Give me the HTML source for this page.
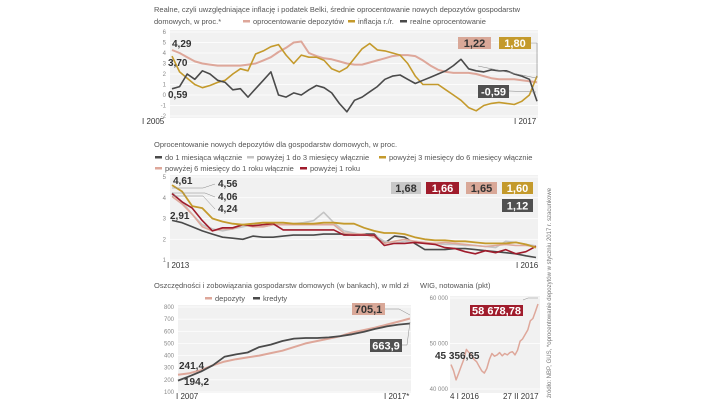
<!DOCTYPE html>
<html><head><meta charset="utf-8"><style>
html,body{margin:0;padding:0;background:#fff;}
svg{display:block;font-family:"Liberation Sans",sans-serif;}
.t{font-size:7.5px;fill:#555;}
.ax{font-size:6px;fill:#888;}
.xl{font-size:8px;fill:#333;}
.v{font-family:"Liberation Sans Narrow","Liberation Sans",sans-serif;font-weight:bold;font-size:10px;fill:#333;}
.bx{font-family:"Liberation Sans Narrow","Liberation Sans",sans-serif;font-weight:bold;font-size:11px;}
</style></head><body>
<svg id="s" width="720" height="406" viewBox="0 0 720 406">
<g>
<text class="t" x="154" y="12">Realne, czyli uwzględniające inflację i podatek Belki, średnie oprocentowanie nowych depozytów gospodarstw</text>
<text class="t" x="154" y="24">domowych, w proc.*</text>
<g>
<rect x="243" y="20" width="7" height="2.5" fill="#dea79a"/><text class="t" x="253" y="24">oprocentowanie depozytów</text>
<rect x="348" y="20" width="7" height="2.5" fill="#c49a2c"/><text class="t" x="358" y="24">inflacja r./r.</text>
<rect x="400" y="20" width="7" height="2.5" fill="#4a4a4a"/><text class="t" x="410" y="24">realne oprocentowanie</text>
</g>
<rect x="170" y="30" width="368" height="88" fill="#f1f1f1"/>
<g id="c1"></g>
<text class="xl" x="142" y="124">I 2005</text>
<text class="xl" x="514" y="124">I 2017</text>
<text class="v" x="172" y="47">4,29</text>
<text class="v" x="168" y="66">3,70</text>
<text class="v" x="168" y="98">0,59</text>
<rect x="458" y="37" width="33" height="12" fill="#d9a898"/><text class="bx" x="474.5" y="47" text-anchor="middle" fill="#333">1,22</text>
<rect x="499" y="37" width="32" height="12" fill="#c49a2c"/><text class="bx" x="515" y="47" text-anchor="middle" fill="#fff">1,80</text>
<rect x="478" y="85" width="31" height="13" fill="#505050"/><text class="bx" x="493.5" y="95.5" text-anchor="middle" fill="#fff">-0,59</text>
<polyline points="531,43 537,43 537,78" fill="none" stroke="#888" stroke-width="0.6"/>
<polyline points="509,91 536,92" fill="none" stroke="#888" stroke-width="0.6"/>
<polyline points="478,66 536,78" fill="none" stroke="#888" stroke-width="0.6"/>
</g>

<g>
<text class="t" x="154" y="147">Oprocentowanie nowych depozytów dla gospodarstw domowych, w proc.</text>
<g>
<rect x="155" y="156" width="7" height="2.5" fill="#4a4a4a"/><text class="t" x="165" y="160">do 1 miesiąca włącznie</text>
<rect x="247" y="156" width="7" height="2.5" fill="#c4c4c4"/><text class="t" x="257" y="160">powyżej 1 do 3 miesięcy włącznie</text>
<rect x="379" y="156" width="7" height="2.5" fill="#c49a2c"/><text class="t" x="389" y="160">powyżej 3 miesięcy do 6 miesięcy włącznie</text>
<rect x="155" y="167" width="7" height="2.5" fill="#dea79a"/><text class="t" x="165" y="171">powyżej 6 miesięcy do 1 roku włącznie</text>
<rect x="300" y="167" width="7" height="2.5" fill="#a01c2c"/><text class="t" x="310" y="171">powyżej 1 roku</text>
</g>
<rect x="170" y="175" width="368" height="86" fill="#f1f1f1"/>
<g id="c2"></g>
<text class="xl" x="167" y="268">I 2013</text>
<text class="xl" x="516" y="268">I 2016</text>
<text class="v" x="173" y="184">4,61</text>
<text class="v" x="218" y="187">4,56</text>
<text class="v" x="218" y="200">4,06</text>
<text class="v" x="218" y="212">4,24</text>
<text class="v" x="170" y="219">2,91</text>
<polyline points="172,188 203,188 215,184" fill="none" stroke="#888" stroke-width="0.5"/>
<polyline points="172,193 205,193 215,197" fill="none" stroke="#888" stroke-width="0.5"/>
<polyline points="172,196 203,196 215,209" fill="none" stroke="#888" stroke-width="0.5"/>
<rect x="391" y="182" width="30" height="12" fill="#c8c8c8"/><text class="bx" x="406" y="192" text-anchor="middle" fill="#333">1,68</text>
<rect x="426" y="182" width="33" height="12" fill="#a01c2c"/><text class="bx" x="442.5" y="192" text-anchor="middle" fill="#fff">1,66</text>
<rect x="466" y="182" width="31" height="12" fill="#d9a898"/><text class="bx" x="481.5" y="192" text-anchor="middle" fill="#333">1,65</text>
<rect x="502" y="182" width="31" height="12" fill="#c49a2c"/><text class="bx" x="517.5" y="192" text-anchor="middle" fill="#fff">1,60</text>
<rect x="502" y="199" width="31" height="13" fill="#505050"/><text class="bx" x="517.5" y="209.5" text-anchor="middle" fill="#fff">1,12</text>
</g>

<g>
<text class="t" x="154" y="288">Oszczędności i zobowiązania gospodarstw domowych (w bankach), w mld zł</text>
<g>
<rect x="205" y="297" width="7" height="2.5" fill="#dea79a"/><text class="t" x="215" y="301">depozyty</text>
<rect x="253" y="297" width="7" height="2.5" fill="#4a4a4a"/><text class="t" x="263" y="301">kredyty</text>
</g>
<rect x="178" y="305" width="233" height="88" fill="#f1f1f1"/>
<g id="c3"></g>
<text class="xl" x="176" y="399">I 2007</text>
<text class="xl" x="384" y="399">I 2017*</text>
<text class="v" x="179" y="369">241,4</text>
<text class="v" x="184" y="385">194,2</text>
<rect x="352" y="303" width="33" height="12" fill="#d9a898"/><text class="bx" x="368.5" y="313" text-anchor="middle" fill="#333">705,1</text>
<rect x="370" y="339" width="32" height="13" fill="#505050"/><text class="bx" x="386" y="349.5" text-anchor="middle" fill="#fff">663,9</text>
<polyline points="385,309 399,309 410,315" fill="none" stroke="#888" stroke-width="0.5"/>
<polyline points="402,345 407,345 410,322" fill="none" stroke="#888" stroke-width="0.5"/>
</g>

<g>
<text class="t" x="420" y="288">WIG, notowania (pkt)</text>
<rect x="450" y="296" width="90" height="97" fill="#f1f1f1"/>
<g id="c4"></g>
<text class="xl" x="450" y="399">4 I 2016</text>
<text class="xl" x="503" y="399">27 II 2017</text>
<text class="v" x="435" y="359">45 356,65</text>
<rect x="470" y="305" width="53" height="11" fill="#a01c2c"/><text class="bx" x="496.5" y="314.5" text-anchor="middle" fill="#fff">58 678,78</text>
<polyline points="523,300 528,298 538,298" fill="none" stroke="#888" stroke-width="0.5"/>
</g>
<text x="0" y="0" transform="translate(551,398) rotate(-90)" style="font-size:6px;fill:#777">źródło: NBP, GUS, *oprocentowanie depozytów w styczniu 2017 r. szacunkowe</text>
</svg>
<script>
var c1Pink=[4.29,4.0,3.6,3.2,3.0,2.9,2.8,2.8,2.8,2.8,2.9,3.0,3.3,3.6,4.1,4.5,5.0,5.1,4.0,3.7,3.5,3.4,3.2,3.0,2.9,2.9,3.1,3.3,3.5,3.7,3.8,3.8,3.7,3.3,2.8,2.4,2.2,2.1,2.1,2.1,2.0,1.8,1.6,1.5,1.5,1.5,1.4,1.3,1.22];
var c1Gold=[3.70,2.2,1.6,1.0,0.7,0.9,1.2,1.4,2.0,2.5,2.3,3.9,4.2,4.6,4.8,3.8,3.0,3.8,3.6,3.6,3.3,2.5,2.2,2.6,3.5,4.4,4.9,4.3,4.2,4.0,3.8,3.0,1.8,1.0,1.0,1.0,0.5,0.0,-0.5,-1.2,-1.5,-1.0,-0.8,-0.7,-0.8,-0.9,-0.6,0.0,1.8];
var c1Dark=[0.59,0.8,2.0,1.5,2.3,2.0,1.4,1.2,0.5,0.6,-0.2,0.6,1.4,2.2,0.0,-0.2,0.2,0.0,0.5,0.9,0.7,0.2,-0.8,-1.6,-0.5,-0.2,0.3,0.8,1.5,1.8,1.9,1.5,1.1,1.4,1.7,2.0,2.3,2.8,3.4,2.5,2.3,2.2,2.4,2.3,2.3,2.0,1.8,1.5,-0.59];
var c1Ticks=[6,5,4,3,2,1,0,-1,-2];
var c2Dark=[2.91,2.8,2.6,2.4,2.25,2.1,2.05,2.0,2.15,2.1,2.1,2.15,2.2,2.2,2.2,2.25,2.25,2.25,2.2,2.25,2.25,1.8,2.15,2.1,1.8,1.5,1.5,1.5,1.55,1.55,1.5,1.45,1.4,1.35,1.3,1.2,1.12];
var c2Gray=[4.24,3.8,3.2,2.7,2.5,2.4,2.5,2.6,2.7,2.6,2.7,2.7,2.75,2.8,2.9,3.3,2.8,2.4,2.3,2.2,2.2,1.9,1.8,1.9,1.9,1.8,1.8,1.75,1.75,1.7,1.7,1.65,1.6,1.9,1.85,1.75,1.68];
var c2Pink=[4.06,3.7,3.2,2.6,2.4,2.5,2.5,2.7,2.6,2.6,2.7,2.7,2.7,2.7,2.7,2.7,2.7,2.3,2.25,2.25,2.1,1.8,1.9,2.0,1.9,1.85,1.8,1.85,1.8,1.75,1.7,1.65,1.7,1.75,1.7,1.7,1.65];
var c2Red=[4.2,3.8,3.5,2.9,2.4,2.55,2.55,2.7,2.65,2.7,2.75,2.45,2.45,2.45,2.45,2.45,2.45,2.2,2.2,2.2,2.2,1.7,1.8,1.8,1.85,1.8,1.75,1.6,1.55,1.4,1.3,1.45,1.35,1.5,1.3,1.4,1.66];
var c2Gold=[4.61,4.3,3.6,3.5,3.0,2.85,2.75,2.7,2.75,2.8,2.8,2.8,2.75,2.75,2.75,2.8,2.8,2.75,2.75,2.55,2.4,2.3,2.3,2.25,2.1,2.0,1.95,1.95,1.9,1.9,1.85,1.8,1.8,1.8,1.85,1.75,1.60];
var c2Ticks=[5,4,3,2,1];
var c3Dep=[241.4,255,280,320,350,370,385,400,420,440,470,500,520,540,560,590,610,630,655,680,705.1];
var c3Cred=[194.2,230,270,320,390,410,425,470,490,520,540,545,545,550,560,575,595,620,640,655,663.9];
var c3Ticks=[800,700,600,500,400,300,200,100];
var c4Wig=[45357,44000,42000,43500,45000,46500,48700,48000,47500,46500,46000,45000,44000,43500,44500,46500,47800,47200,47500,48000,47300,47800,47500,48000,48200,47500,48500,50500,51000,52000,53000,55000,55500,57000,58679];
var c4Ticks=[60000,50000,40000];
var tickLabels4=["60 000","50 000","40 000"];
var NS="http://www.w3.org/2000/svg";
function lin(d0,d1,r0,r1){return function(v){return r0+(v-d0)/(d1-d0)*(r1-r0);};}
function line(g,data,x0,x1,ys,color,w){
  var xs=lin(0,data.length-1,x0,x1);var pts=[];
  for(var i=0;i<data.length;i++)pts.push(xs(i).toFixed(1)+","+ys(data[i]).toFixed(1));
  var p=document.createElementNS(NS,"polyline");
  p.setAttribute("points",pts.join(" "));p.setAttribute("fill","none");
  p.setAttribute("stroke",color);p.setAttribute("stroke-width",w);p.setAttribute("stroke-linejoin","round");
  g.appendChild(p);return p;
}
function ticks(g,arr,ys,x,gx0,gx1,labels){
  for(var i=0;i<arr.length;i++){
    var y=ys(arr[i]);
    var l=document.createElementNS(NS,"line");
    l.setAttribute("x1",gx0);l.setAttribute("x2",gx1);l.setAttribute("y1",y);l.setAttribute("y2",y);
    l.setAttribute("stroke","#fff");l.setAttribute("stroke-width","0.7");
    
    
    g.appendChild(l);
    var t=document.createElementNS(NS,"text");
    t.setAttribute("x",x);t.setAttribute("y",y+2);t.setAttribute("class","ax");t.setAttribute("text-anchor","end");
    t.textContent=labels?labels[i]:String(arr[i]);
    
    
    g.appendChild(t);
  }
}
var g1=document.getElementById("c1");var y1=lin(6,-2,32,116);
ticks(g1,c1Ticks,y1,166,170,538);
var p;
p=line(g1,c1Pink,172,537,y1,"#dea79a",2);


p=line(g1,c1Gold,172,537,y1,"#c49a2c",1.6);


p=line(g1,c1Dark,172,537,y1,"#4a4a4a",1.6);


var g2=document.getElementById("c2");var y2=lin(5,1,177,260);
ticks(g2,c2Ticks,y2,166,170,538);
p=line(g2,c2Dark,172,536,y2,"#4a4a4a",1.6);


p=line(g2,c2Gray,172,536,y2,"#c4c4c4",1.6);


p=line(g2,c2Pink,172,536,y2,"#dea79a",1.6);


p=line(g2,c2Red,172,536,y2,"#a01c2c",1.6);


p=line(g2,c2Gold,172,536,y2,"#c49a2c",1.8);


var g3=document.getElementById("c3");var y3=lin(800,100,307,392);
ticks(g3,c3Ticks,y3,174,178,411);
p=line(g3,c3Dep,178,410,y3,"#dea79a",2);


p=line(g3,c3Cred,178,410,y3,"#4a4a4a",1.8);


var g4=document.getElementById("c4");var y4=lin(60000,40000,298,389);
ticks(g4,c4Ticks,y4,448,450,540,tickLabels4);
p=line(g4,c4Wig,451,538,y4,"#dea79a",1.5);


</script>
</body></html>
